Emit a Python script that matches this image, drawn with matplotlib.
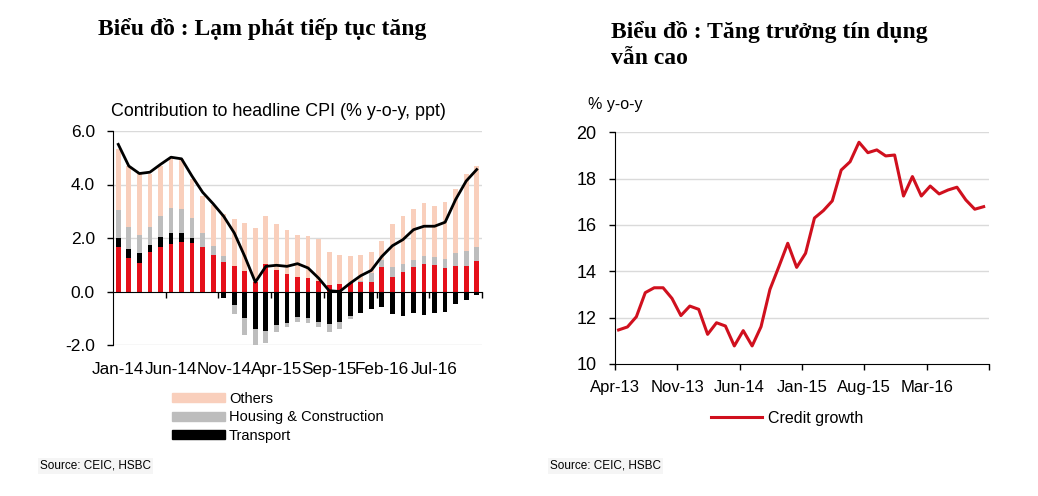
import numpy as np
import matplotlib
matplotlib.use('Agg')
import matplotlib.pyplot as plt
from matplotlib.patches import Patch
from matplotlib.lines import Line2D

plt.rcParams['font.family'] = ['Liberation Sans', 'DejaVu Sans']
plt.rcParams['axes.unicode_minus'] = False

# ---- left chart data: contribution to headline CPI, Jan-14 .. Nov-16
cpi_labels = ['Jan-14', 'Jun-14', 'Nov-14', 'Apr-15', 'Sep-15', 'Feb-16', 'Jul-16']
food = [1.65, 1.25, 1.06, 1.47, 1.66, 1.79, 1.86, 1.81, 1.68, 1.35, 1.09, 0.94,
        0.75, 0.35, 1.03, 0.81, 0.65, 0.56, 0.50, 0.38, 0.25, 0.29, 0.31, 0.35,
        0.34, 0.90, 0.56, 0.73, 0.93, 1.04, 0.98, 0.88, 0.96, 0.96, 1.13]
transport = [0.35, 0.34, 0.38, 0.28, 0.38, 0.40, 0.33, 0.20, 0.00, -0.05, -0.25, -0.50,
             -1.00, -1.41, -1.46, -1.25, -1.19, -0.96, -1.00, -1.13, -1.21, -1.13, -0.91, -0.79,
             -0.66, -0.59, -0.84, -0.91, -0.81, -0.88, -0.81, -0.78, -0.46, -0.31, -0.13]
housing = [1.04, 0.82, 0.67, 0.66, 0.80, 0.92, 0.90, 0.73, 0.51, 0.36, 0.22, -0.34,
           -0.63, -0.63, -0.45, -0.25, -0.15, -0.17, -0.16, -0.21, -0.29, -0.27, -0.12, 0.05,
           0.35, 0.29, 0.34, 0.31, 0.26, 0.30, 0.30, 0.33, 0.48, 0.54, 0.53]
others = [2.30, 2.29, 2.33, 1.99, 1.86, 1.89, 1.85, 1.46, 1.37, 1.54, 1.57, 1.77,
          1.81, 2.03, 1.81, 1.73, 1.66, 1.57, 1.56, 1.58, 1.23, 1.09, 1.03, 0.98,
          0.77, 0.69, 1.64, 1.77, 1.90, 1.95, 1.93, 2.14, 2.40, 2.91, 3.03]
headline = [5.50, 4.69, 4.41, 4.46, 4.75, 5.02, 4.96, 4.31, 3.71, 3.28, 2.81, 2.19,
            1.31, 0.35, 0.94, 0.98, 0.94, 1.04, 0.88, 0.50, 0.03, 0.00, 0.31, 0.59,
            0.79, 1.31, 1.71, 1.94, 2.31, 2.44, 2.44, 2.59, 3.44, 4.13, 4.56]

# ---- right chart data: credit growth, Apr-13 .. Sep-16
credit_labels = ['Apr-13', 'Nov-13', 'Jun-14', 'Jan-15', 'Aug-15', 'Mar-16', '']
credit = [11.47, 11.60, 12.04, 13.08, 13.29, 13.29, 12.83, 12.09, 12.50, 12.36, 11.28, 11.78,
          11.64, 10.78, 11.44, 10.78, 11.61, 13.22, 14.20, 15.21, 14.17, 14.78, 16.30, 16.62,
          17.04, 18.37, 18.73, 19.57, 19.12, 19.24, 18.98, 19.02, 17.25, 18.09, 17.25, 17.68,
          17.34, 17.51, 17.63, 17.08, 16.68, 16.79]

red = '#E5101A'
pink = '#F9CFBC'
grey = '#BDBDBD'
gridc = '#DADADA'
serif = ['Liberation Serif', 'DejaVu Serif']

fig = plt.figure(figsize=(10.38, 4.96), dpi=100)

# titles in Vietnamese
fig.text(98/1038, 1-29/496, 'Biểu đồ : Lạm phát tiếp tục tăng', family=serif,
         fontweight='bold', fontsize=17, va='center')
fig.text(611/1038, 1-32/496, 'Biểu đồ : Tăng trưởng tín dụng', family=serif,
         fontweight='bold', fontsize=17, va='center')
fig.text(611/1038, 1-59/496, 'vẫn cao', family=serif,
         fontweight='bold', fontsize=17, va='center')

# ---------------- left chart
ax = fig.add_axes([113/1038, 1-345/496, 369/1038, 214/496])
x = np.arange(len(food))
food = np.array(food)
transport = np.array(transport)
housing = np.array(housing)
others = np.array(others)

pos = food.copy()
neg = np.zeros(len(food))
w = 0.45
ax.bar(x, food, w, color=red, zorder=2)
b = np.where(transport >= 0, pos, neg)
ax.bar(x, transport, w, bottom=b, color='black', zorder=2)
pos = np.where(transport >= 0, pos + transport, pos)
neg = np.where(transport < 0, neg + transport, neg)
b = np.where(housing >= 0, pos, neg)
ax.bar(x, housing, w, bottom=b, color=grey, zorder=2)
pos = np.where(housing >= 0, pos + housing, pos)
ax.bar(x, others, w, bottom=pos, color=pink, zorder=1)
ax.plot(x, headline, color='black', lw=2, zorder=3)

ax.set_xlim(-0.5, 34.5)
ax.set_ylim(-2, 6)
ax.set_yticks([-2, 0, 2, 4, 6])
ax.set_yticklabels(['%.1f' % v for v in [-2, 0, 2, 4, 6]])
ax.tick_params(axis='y', labelsize=12.5, length=4, width=1, pad=9)
for v in [2, 4, 6, -2]:
    ax.axhline(v, color=gridc, lw=1, zorder=0)
ax.spines['top'].set_visible(False)
ax.spines['right'].set_visible(False)
ax.spines['bottom'].set_position(('data', 0))
ax.spines['bottom'].set_zorder(4)
ax.set_xticks(np.arange(4.5, 35, 5))
ax.tick_params(axis='x', labelbottom=False, length=4, width=1)
sec = ax.secondary_xaxis('bottom')
sec.spines['bottom'].set_visible(False)
sec.set_xticks(np.arange(0, 31, 5))
sec.set_xticklabels(cpi_labels)
sec.tick_params(length=0, labelsize=12.3, pad=12)

fig.text(111/1038, 1-112/496, 'Contribution to headline CPI (% y-o-y, ppt)', fontsize=12.9, va='center')

handles = [Patch(color=pink, label='Others'),
           Patch(color=grey, label='Housing & Construction'),
           Patch(color='black', label='Transport')]
fig.legend(handles=handles, loc='upper left', bbox_to_anchor=(172/1038, 1-392/496), frameon=False,
           fontsize=10.5, handlelength=3.6, handleheight=0.55, handletextpad=0.3, labelspacing=0.3,
           borderpad=0, borderaxespad=0)

src_box = dict(facecolor='#F5F5F5', edgecolor='none', pad=1.5)
fig.text(40/1038, 1-466/496, 'Source: CEIC, HSBC', fontsize=8.5, va='center', bbox=src_box)

# ---------------- right chart
ax2 = fig.add_axes([615/1038, 1-364/496, 374/1038, 231.7/496])
m = np.arange(len(credit))
ax2.plot(m, credit, color='#D0101E', lw=2.2, zorder=3)
ax2.set_xlim(-0.4, 41.6)
ax2.set_ylim(10, 20)
ax2.set_yticks(np.arange(10, 21, 2))
for v in np.arange(12, 21, 2):
    ax2.axhline(v, color=gridc, lw=1, zorder=0)
ax2.set_xticks(np.arange(0, 43, 7) - 0.4)
ax2.set_xticklabels(credit_labels)
ax2.tick_params(labelsize=12, length=4.5, width=1)
ax2.tick_params(axis='x', pad=7)
ax2.tick_params(axis='y', labelsize=13, pad=9)
ax2.spines['top'].set_visible(False)
ax2.spines['right'].set_visible(False)

fig.text(588/1038, 1-105/496, '% y-o-y', fontsize=11.5, va='center')
fig.legend(handles=[Line2D([], [], color='#D0101E', lw=2.2, label='Credit growth')], loc='center left',
           bbox_to_anchor=(711/1038, 1-418/496), frameon=False, fontsize=11.5, handlelength=3.2,
           handletextpad=0.4, borderpad=0, borderaxespad=0)
fig.text(550/1038, 1-466/496, 'Source: CEIC, HSBC', fontsize=8.5, va='center', bbox=src_box)

plt.savefig('out.png', dpi=100)
plt.close()
